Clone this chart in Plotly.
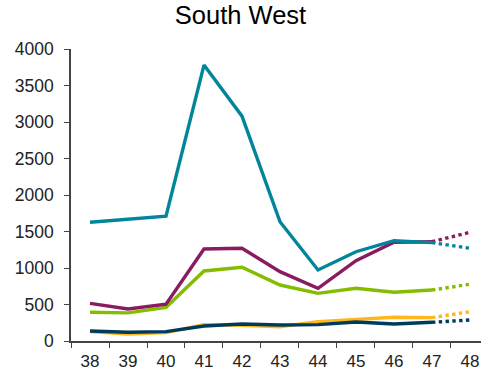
import plotly.graph_objects as go

weeks = ["38", "39", "40", "41", "42", "43", "44", "45", "46", "47", "48"]

teal = [1626, 1670, 1710, 3780, 3080, 1634, 973, 1223, 1374, 1347]
purple = [516, 438, 505, 1260, 1270, 950, 722, 1100, 1352, 1360]
green = [393, 385, 461, 959, 1010, 767, 653, 722, 667, 699]
orange = [130, 96, 115, 225, 215, 196, 265, 297, 325, 320]
navy = [137, 119, 128, 205, 233, 219, 225, 260, 233, 256]

teal_proj = 1270
purple_proj = 1489
green_proj = 777
orange_proj = 402
navy_proj = 288

series = [
    ("orange", orange, orange_proj, "#FFB81C"),
    ("green", green, green_proj, "#84BD00"),
    ("purple", purple, purple_proj, "#8A1B61"),
    ("navy", navy, navy_proj, "#003B5C"),
    ("teal", teal, teal_proj, "#00859B"),
]

fig = go.Figure()
for name, vals, proj, col in series:
    fig.add_trace(go.Scatter(x=weeks[:len(vals)], y=vals, mode="lines",
                             line=dict(color=col, width=3.4), name=name,
                             showlegend=False))
    fig.add_trace(go.Scatter(x=[weeks[len(vals) - 1], weeks[len(vals)]],
                             y=[vals[-1], proj], mode="lines",
                             line=dict(color=col, width=3.4, dash="dot"),
                             showlegend=False))

fig.update_layout(
    width=481, height=378,
    margin=dict(l=71, r=0, t=49, b=37, autoexpand=False),
    paper_bgcolor="white", plot_bgcolor="white",
    font=dict(family="Liberation Sans, Arial, sans-serif", size=17, color="#222222"),
    title=dict(text="South West", x=0.5, xanchor="center", y=0.960, yanchor="middle",
               font=dict(size=25.5, color="#000000")),
    xaxis=dict(type="category", categoryorder="array", categoryarray=weeks,
               range=[-0.5, 10.29], tickson="boundaries", ticks="outside",
               ticklen=5, tickcolor="#444444", showline=True, linecolor="#444444",
               linewidth=1.5, showgrid=False, zeroline=False, ticklabelstandoff=4,
               tickfont=dict(size=17, color="#222222")),
    yaxis=dict(range=[0, 4000], tickvals=list(range(0, 4001, 500)),
               ticks="outside", ticklen=5, tickcolor="#444444", showline=True,
               linecolor="#444444", linewidth=1.5, showgrid=False, zeroline=False,
               ticklabelstandoff=7,
               tickfont=dict(size=17.5, color="#222222")),
)

fig.write_html("out.html",
               config={"displayModeBar": False},
               post_script="document.body.style.margin='0px';"
                           "document.body.style.overflow='hidden';")
